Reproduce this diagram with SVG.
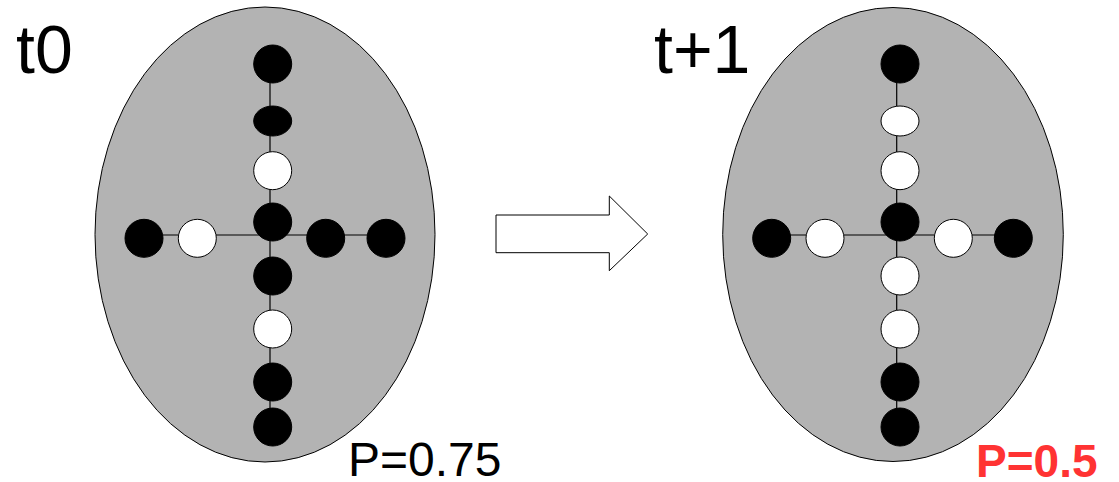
<svg xmlns="http://www.w3.org/2000/svg" width="1119" height="482" viewBox="0 0 1119 482">
<style>
.cell{fill:#b3b3b3;stroke:#000;stroke-width:1}
.b{fill:#000;stroke:#000;stroke-width:1}
.w{fill:#fff;stroke:#000;stroke-width:1}
.ln{stroke:#000;stroke-width:1.2;fill:none}
.lbl{font-family:"Liberation Sans",Arial,sans-serif;fill:#000}
</style>
<rect width="1119" height="482" fill="#fff"/>
<g id="cell-t0"><ellipse class="cell" cx="265" cy="234.5" rx="170" ry="227.5"/></g>
<g id="cell-t1"><ellipse class="cell" cx="893" cy="234.5" rx="170.3" ry="227"/></g>
<g id="connectors">
<line class="ln" x1="270" y1="64" x2="270" y2="427"/>
<line class="ln" x1="144" y1="235" x2="386" y2="235"/>
<line class="ln" x1="896.7" y1="64" x2="896.7" y2="427"/>
<line class="ln" x1="772" y1="235" x2="1013" y2="235"/>
</g>
<g id="dots-t0">
<circle class="b" cx="272.7" cy="64" r="19"/>
<ellipse class="b" cx="272.7" cy="121" rx="19" ry="15"/>
<circle class="w" cx="272.7" cy="170.7" r="19"/>
<circle class="b" cx="272.7" cy="222" r="19"/>
<circle class="b" cx="272.7" cy="276" r="19"/>
<circle class="w" cx="272.7" cy="329" r="19"/>
<circle class="b" cx="272.7" cy="382" r="19"/>
<circle class="b" cx="272.7" cy="427" r="19"/>
<circle class="b" cx="144" cy="238.3" r="19"/>
<circle class="w" cx="197.3" cy="238.3" r="19"/>
<circle class="b" cx="325.7" cy="238.3" r="19"/>
<circle class="b" cx="386" cy="238.3" r="19"/>
</g>
<g id="dots-t1">
<circle class="b" cx="900" cy="64" r="19"/>
<ellipse class="w" cx="900" cy="121" rx="19" ry="15"/>
<circle class="w" cx="900" cy="170.7" r="19"/>
<circle class="b" cx="900" cy="222" r="19"/>
<circle class="w" cx="900" cy="276" r="19"/>
<circle class="w" cx="900" cy="329" r="19"/>
<circle class="b" cx="900" cy="382" r="19"/>
<circle class="b" cx="900" cy="427" r="19"/>
<circle class="b" cx="771.7" cy="238.3" r="19"/>
<circle class="w" cx="825" cy="238.3" r="19"/>
<circle class="w" cx="953.3" cy="238.3" r="19"/>
<circle class="b" cx="1013.3" cy="238.3" r="19"/>
</g>
<g id="arrow">
<polygon points="496,215 609.3,215 609.3,196 647.7,234 609.3,270.7 609.3,252.7 496,252.7" fill="#fff" stroke="#000" stroke-width="1"/>
</g>
<g id="label-t0"><text class="lbl" x="16" y="72.7" font-size="68">t0</text></g>
<g id="label-t1"><text class="lbl" x="654" y="72.7" font-size="68">t+1</text></g>
<g id="label-p0"><text class="lbl" x="348" y="476" font-size="48">P=0.75</text></g>
<g id="label-p1"><text class="lbl" x="976" y="476.5" font-size="46" font-weight="bold" style="fill:#ff3333">P=0.5</text></g>
</svg>
